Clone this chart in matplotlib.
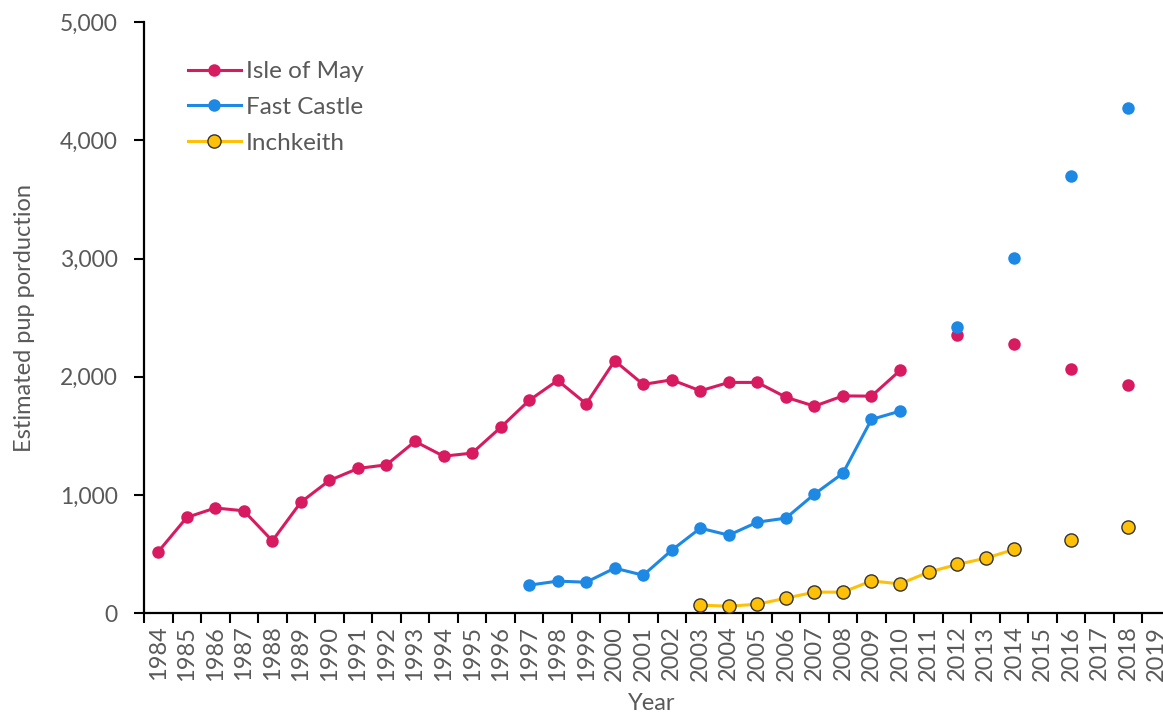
#!/usr/bin/env python3
"""Estimated grey seal pup production at Isle of May, Fast Castle and Inchkeith."""
import numpy as np
import matplotlib
matplotlib.use('Agg')
import matplotlib.pyplot as plt
from matplotlib.ticker import FuncFormatter

plt.rcParams['font.family'] = ['Lato', 'DejaVu Sans']

# category axis: one slot per year
years = list(range(1984, 2020))

may_years = [1984, 1985, 1986, 1987, 1988, 1989, 1990, 1991, 1992, 1993, 1994, 1995,
             1996, 1997, 1998, 1999, 2000, 2001, 2002, 2003, 2004, 2005, 2006, 2007,
             2008, 2009, 2010, 2012, 2014, 2016, 2018]
may_vals = [520, 810, 890, 866, 612, 939, 1123, 1224, 1255, 1453, 1328, 1354,
            1571, 1800, 1969, 1771, 2135, 1935, 1974, 1881, 1952, 1952, 1827, 1751,
            1838, 1836, 2053, 2355, 2273, 2064, 1926]
may_line_end = 2010

fast_years = [1997, 1998, 1999, 2000, 2001, 2002, 2003, 2004, 2005, 2006, 2007,
              2008, 2009, 2010, 2012, 2014, 2016, 2018]
fast_vals = [237, 271, 262, 381, 321, 533, 719, 660, 770, 804, 1007,
             1184, 1639, 1709, 2420, 3003, 3697, 4272]
fast_line_end = 2010

inch_years = [2003, 2004, 2005, 2006, 2007, 2008, 2009, 2010, 2011, 2012, 2013,
              2014, 2016, 2018]
inch_vals = [68, 59, 76, 127, 178, 178, 273, 248, 347, 412, 465,
             539, 620, 730]
inch_line_end = 2014

GREY = '#595959'

fig = plt.figure(figsize=(11.63, 7.13), dpi=100)
ax = fig.add_axes([0.1238, 0.140, 1.0069 - 0.1238, 0.969 - 0.140])


def draw(yrs, vals, line_end, color, label, mec=None, ms=9):
    x = np.array([years.index(y) for y in yrs])
    v = np.array(vals)
    joined = np.array(yrs) <= line_end
    mec = mec or color
    mew = 1.0 if mec != color else 0
    ax.plot(x[joined], v[joined], '-o', color=color, lw=2.2, ms=ms,
            mfc=color, mec=mec, mew=mew, label=label, clip_on=False, zorder=3)
    ax.plot(x[~joined], v[~joined], 'o', color=color, ms=ms,
            mfc=color, mec=mec, mew=mew, clip_on=False, zorder=3)


draw(may_years, may_vals, may_line_end, '#D81B60', 'Isle of May')
draw(fast_years, fast_vals, fast_line_end, '#1E88E5', 'Fast Castle')
draw(inch_years, inch_vals, inch_line_end, '#FFC107', 'Inchkeith', mec='#333333', ms=9.5)

ax.set_xlim(-0.5, len(years) - 0.5)
ax.set_ylim(0, 5000)
ax.set_yticks(range(0, 5001, 1000))
ax.yaxis.set_major_formatter(FuncFormatter(lambda v, p: f'{int(v):,}'))

# ticks between categories, labels at category centres
ax.set_xticks(np.arange(-0.5, len(years), 1))
ax.set_xticklabels([])
ax.set_xticks(np.arange(len(years)), minor=True)
ax.set_xticklabels([str(y) for y in years], minor=True, rotation=90)
ax.tick_params(axis='x', which='major', length=7, width=1.5, direction='out')
ax.tick_params(axis='x', which='minor', length=0, pad=9, labelsize=17, labelcolor=GREY)
ax.tick_params(axis='y', length=7, width=1.5, direction='out', pad=12,
               labelsize=16.5, labelcolor=GREY)

for s in ['top', 'right']:
    ax.spines[s].set_visible(False)
for s in ['left', 'bottom']:
    ax.spines[s].set_linewidth(1.6)
    ax.spines[s].set_color('black')

fig.text(652 / 1163, 1 - 703 / 713, 'Year', fontsize=17, color=GREY,
         ha='center', va='center')
ax.set_ylabel('Estimated pup porduction', fontsize=17, color=GREY, labelpad=18)

ax.legend(loc='upper left', bbox_to_anchor=(0.033, 0.950), frameon=False,
          fontsize=17.5, labelcolor=GREY, handlelength=2.2, handletextpad=0.2,
          labelspacing=0.6, borderaxespad=0)

fig.savefig('out.png', dpi=100)
